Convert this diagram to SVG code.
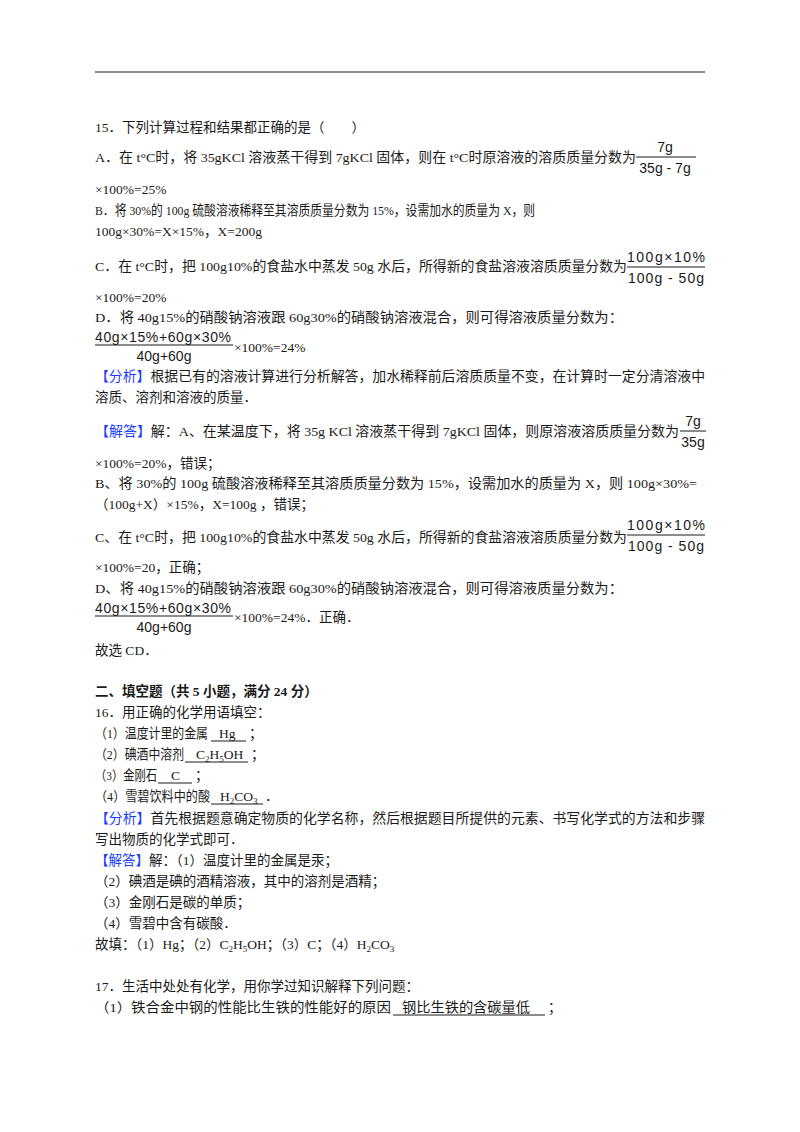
<svg xmlns="http://www.w3.org/2000/svg" width="800" height="1132" viewBox="0 0 800 1132">
<style>
text{font-family:"Liberation Serif","Noto Sans CJK SC",serif;font-size:13.5px;fill:#1a1a1a}
.f{font-family:"Liberation Sans","Noto Sans CJK SC",sans-serif;font-size:14px}
.b{font-weight:bold}
.k{fill:#1a3cff}
line{stroke:#1a1a1a;stroke-width:1}
</style>
<rect width="800" height="1132" fill="#fff"/>
<line x1="95" y1="72" x2="705" y2="72" stroke-width="1.5"/>
<g id="q15">
<text x="95" y="132">15．下列计算过程和结果都正确的是（　　）</text>
<text x="95" y="162" textLength="541" lengthAdjust="spacingAndGlyphs">A．在 t°C时，将 35gKCl 溶液蒸干得到 7gKCl 固体，则在 t°C时原溶液的溶质质量分数为</text>
<text class="f" x="665" y="152" text-anchor="middle">7g</text><line x1="636" y1="157" x2="696" y2="157"/><text class="f" x="665" y="173" text-anchor="middle">35g - 7g</text>
<text x="95" y="194">×100%=25%</text>
<text x="95" y="215" textLength="440" lengthAdjust="spacingAndGlyphs">B．将 30%的 100g 硫酸溶液稀释至其溶质质量分数为 15%，设需加水的质量为 X，则</text>
<text x="95" y="236">100g×30%=X×15%，X=200g</text>
<text x="95" y="271" textLength="532" lengthAdjust="spacingAndGlyphs">C．在 t°C时，把 100g10%的食盐水中蒸发 50g 水后，所得新的食盐溶液溶质质量分数为</text>
<text class="f" x="666" y="262" text-anchor="middle" textLength="78">100g×10%</text><line x1="627" y1="267" x2="705" y2="267"/><text class="f" x="666" y="283" text-anchor="middle" textLength="76">100g - 50g</text>
<text x="95" y="302">×100%=20%</text>
<text x="95" y="322" textLength="528" lengthAdjust="spacingAndGlyphs">D．将 40g15%的硝酸钠溶液跟 60g30%的硝酸钠溶液混合，则可得溶液质量分数为：</text>
<text class="f" x="95" y="342" textLength="136">40g×15%+60g×30%</text><line x1="95" y1="345" x2="233" y2="345"/><text class="f" x="164" y="361" text-anchor="middle">40g+60g</text>
<text x="234" y="352">×100%=24%</text>
<text x="95" y="381" textLength="610" lengthAdjust="spacingAndGlyphs"><tspan class="k">【分析】</tspan>根据已有的溶液计算进行分析解答，加水稀释前后溶质质量不变，在计算时一定分清溶液中</text>
<text x="95" y="402">溶质、溶剂和溶液的质量．</text>
<text x="95" y="436" textLength="584" lengthAdjust="spacingAndGlyphs"><tspan class="k">【解答】</tspan>解：A、在某温度下，将 35g KCl 溶液蒸干得到 7gKCl 固体，则原溶液溶质质量分数为</text>
<text class="f" x="693" y="426" text-anchor="middle">7g</text><line x1="680" y1="431" x2="706" y2="431"/><text class="f" x="693" y="447" text-anchor="middle">35g</text>
<text x="95" y="468">×100%=20%，错误；</text>
<text x="95" y="488" textLength="602" lengthAdjust="spacingAndGlyphs">B、将 30%的 100g 硫酸溶液稀释至其溶质质量分数为 15%，设需加水的质量为 X，则 100g×30%=</text>
<text x="95" y="509">（100g+X）×15%，X=100g ，错误；</text>
<text x="95" y="542" textLength="532" lengthAdjust="spacingAndGlyphs">C、在 t°C时，把 100g10%的食盐水中蒸发 50g 水后，所得新的食盐溶液溶质质量分数为</text>
<text class="f" x="666" y="530" text-anchor="middle" textLength="78">100g×10%</text><line x1="627" y1="535" x2="705" y2="535"/><text class="f" x="666" y="551" text-anchor="middle" textLength="76">100g - 50g</text>
<text x="95" y="572">×100%=20，正确；</text>
<text x="95" y="593" textLength="528" lengthAdjust="spacingAndGlyphs">D、将 40g15%的硝酸钠溶液跟 60g30%的硝酸钠溶液混合，则可得溶液质量分数为：</text>
<text class="f" x="95" y="613" textLength="136">40g×15%+60g×30%</text><line x1="95" y1="616" x2="233" y2="616"/><text class="f" x="164" y="632" text-anchor="middle">40g+60g</text>
<text x="234" y="622">×100%=24%．正确．</text>
<text x="95" y="655">故选 CD．</text>
</g>
<g id="sec2">
<text class="b" x="95" y="696">二、填空题（共 5 小题，满分 24 分）</text>
</g>
<g id="q16">
<text x="95" y="717">16．用正确的化学用语填空：</text>
<text x="95" y="738" textLength="113" lengthAdjust="spacingAndGlyphs">（1）温度计里的金属</text>
<text x="219" y="738">Hg</text><text x="249" y="738">；</text>
<line x1="211" y1="741" x2="246" y2="741"/>
<text x="95" y="759" textLength="89" lengthAdjust="spacingAndGlyphs">（2）碘酒中溶剂</text>
<text x="196" y="759">C<tspan font-size="9" dy="3">2</tspan><tspan dy="-3">H</tspan><tspan font-size="9" dy="3">5</tspan><tspan dy="-3">OH</tspan></text><text x="251" y="759">；</text>
<line x1="185" y1="762" x2="248" y2="762"/>
<text x="95" y="780" textLength="62" lengthAdjust="spacingAndGlyphs">（3）金刚石</text>
<text x="171" y="780">C</text><text x="195" y="780">；</text>
<line x1="158" y1="783" x2="192" y2="783"/>
<text x="95" y="801" textLength="115" lengthAdjust="spacingAndGlyphs">（4）雪碧饮料中的酸</text>
<text x="220" y="801">H<tspan font-size="9" dy="3">2</tspan><tspan dy="-3">CO</tspan><tspan font-size="9" dy="3">3</tspan></text><text x="265" y="801">．</text>
<line x1="211" y1="804" x2="263" y2="804"/>
<text x="95" y="823" textLength="610" lengthAdjust="spacingAndGlyphs"><tspan class="k">【分析】</tspan>首先根据题意确定物质的化学名称，然后根据题目所提供的元素、书写化学式的方法和步骤</text>
<text x="95" y="844">写出物质的化学式即可．</text>
<text x="95" y="865"><tspan class="k">【解答】</tspan>解：（1）温度计里的金属是汞；</text>
<text x="95" y="886">（2）碘酒是碘的酒精溶液，其中的溶剂是酒精；</text>
<text x="95" y="907">（3）金刚石是碳的单质；</text>
<text x="95" y="928">（4）雪碧中含有碳酸．</text>
<text x="95" y="949">故填：（1）Hg；（2）C<tspan font-size="9" dy="3">2</tspan><tspan dy="-3">H</tspan><tspan font-size="9" dy="3">5</tspan><tspan dy="-3">OH；（3）C；（4）H</tspan><tspan font-size="9" dy="3">2</tspan><tspan dy="-3">CO</tspan><tspan font-size="9" dy="3">3</tspan></text>
</g>
<g id="q17">
<text x="95" y="991">17．生活中处处有化学，用你学过知识解释下列问题：</text>
<text x="95" y="1012" textLength="296" lengthAdjust="spacingAndGlyphs">（1）铁合金中钢的性能比生铁的性能好的原因</text>
<text x="402" y="1012" textLength="128" lengthAdjust="spacingAndGlyphs">钢比生铁的含碳量低</text><text x="548" y="1012">；</text>
<line x1="393" y1="1015" x2="545" y2="1015"/>
</g>
</svg>
